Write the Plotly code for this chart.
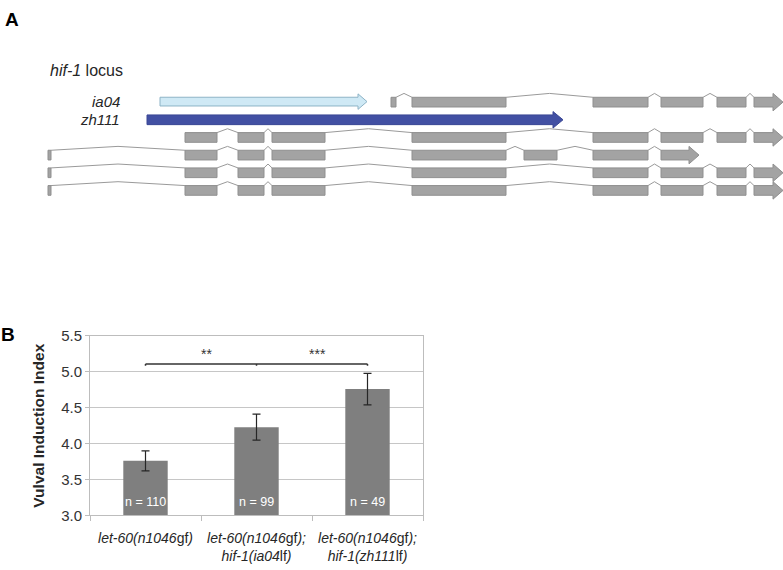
import plotly.graph_objects as go

W, H = 783, 570

# ---------------- Panel B data ----------------
genotypes = ["let-60(n1046gf)", "let-60(n1046gf); hif-1(ia04lf)", "let-60(n1046gf); hif-1(zh111lf)"]
tick_labels = [
    "<i>let-60(n1046</i>gf<i>)</i>",
    "<i>let-60(n1046</i>gf<i>);</i><br><i>hif-1(ia04</i>lf<i>)</i>",
    "<i>let-60(n1046</i>gf<i>);</i><br><i>hif-1(zh111</i>lf<i>)</i>",
]
vii = [3.76, 4.23, 4.76]
vii_err = [0.14, 0.18, 0.22]
n_worms = [110, 99, 49]
bracket_level = 5.11
star_level = 5.25
stars = ["**", "***"]

# ---------------- Panel A data (schematic locus coordinates) ----------------
transcript_lanes = [0, 2, 3, 4, 5]
transcript_starts = [
    [391, 412, 593, 661, 717, 754],
    [185, 238, 272, 412, 593, 661, 717, 754],
    [48, 185, 238, 272, 412, 524, 593, 661],
    [48, 185, 238, 272, 412, 593, 661, 717, 754],
    [48, 185, 238, 272, 412, 593, 661, 717, 754],
]
transcript_ends = [
    [396, 506, 648, 703, 746, 783],
    [217, 264, 325, 506, 648, 703, 746, 783],
    [51, 217, 264, 325, 506, 557, 648, 699],
    [51, 217, 264, 325, 506, 648, 703, 746, 783],
    [51, 217, 264, 325, 506, 648, 703, 746, 783],
]
deletion_names = ["ia04", "zh111"]
deletion_starts = [160, 147]
deletion_ends = [367, 563]
deletion_lanes = [-0.03, 1.0]

# ---------------- styling ----------------
PX_PER_LANE = 18.2
LANE0_PX = 96.0
EXON_HALF = 5 / PX_PER_LANE
HEAD_HALF = 9 / PX_PER_LANE
PEAK = 4 / PX_PER_LANE
EXON_FILL = "#a3a3a3"
EXON_LINE = "#8f8f8f"
TEXT = "#262626"
FONT = "Liberation Sans, Arial"


def arrow_poly(x0, x1, y, h, hh, L):
    xs = [x0, x1 - L, x1 - L, x1, x1 - L, x1 - L, x0, x0]
    ys = [y - h, y - h, y - hh, y, y + hh, y + h, y + h, y - h]
    return xs, ys


def lane_of(px):
    return (px - LANE0_PX) / PX_PER_LANE


fig = go.Figure()

# ---- gene models ----
ex_x, ex_y, in_x, in_y = [], [], [], []
for lane, starts, ends in zip(transcript_lanes, transcript_starts, transcript_ends):
    n = len(starts)
    for i, (s, e) in enumerate(zip(starts, ends)):
        if i == n - 1:
            xs, ys = arrow_poly(s, e, lane, EXON_HALF, HEAD_HALF, 10)
        else:
            xs = [s, e, e, s, s]
            ys = [lane - EXON_HALF, lane - EXON_HALF, lane + EXON_HALF, lane + EXON_HALF, lane - EXON_HALF]
        ex_x += xs + [None]
        ex_y += ys + [None]
        if i < n - 1:
            a, b = e, starts[i + 1]
            top = lane - EXON_HALF
            in_x += [a, (a + b) / 2, b, None]
            in_y += [top, top - PEAK, top, None]

fig.add_trace(go.Scatter(x=in_x, y=in_y, mode="lines", line=dict(color="#9a9a9a", width=1),
                         xaxis="x2", yaxis="y2", hoverinfo="skip", showlegend=False))
fig.add_trace(go.Scatter(x=ex_x, y=ex_y, mode="lines", fill="toself", fillcolor=EXON_FILL,
                         line=dict(color=EXON_LINE, width=1), xaxis="x2", yaxis="y2",
                         hoverinfo="skip", showlegend=False))

# ---- deletions ----
del_styles = [
    dict(fill="#cfe9f5", line="#8db3c6", h=4.5, hh=8.0, L=9),
    dict(fill="#4250a3", line="#3a4795", h=5.0, hh=8.5, L=10),
]
for name, s, e, lane, st in zip(deletion_names, deletion_starts, deletion_ends, deletion_lanes, del_styles):
    xs, ys = arrow_poly(s, e, lane, st["h"] / PX_PER_LANE, st["hh"] / PX_PER_LANE, st["L"])
    fig.add_trace(go.Scatter(x=xs, y=ys, mode="lines", fill="toself", fillcolor=st["fill"],
                             line=dict(color=st["line"], width=1), xaxis="x2", yaxis="y2",
                             hoverinfo="skip", showlegend=False))
    fig.add_annotation(x=122, y=lane, xref="x2", yref="y2", text="<i>%s</i>" % name,
                       showarrow=False, xanchor="right", yanchor="middle",
                       font=dict(family=FONT, size=15, color=TEXT))

# ---- bar chart ----
fig.add_trace(go.Bar(
    x=genotypes, y=vii, width=0.4, marker=dict(color="#7f7f7f", line=dict(width=0)),
    error_y=dict(type="data", array=vii_err, color="#262626", thickness=1.2, width=4),
    showlegend=False, hoverinfo="skip",
))
for g, n in zip(genotypes, n_worms):
    fig.add_annotation(x=g, y=3.0, xref="x", yref="y", yanchor="bottom", yshift=4,
                       text="n = %d" % n, showarrow=False,
                       font=dict(family=FONT, size=12.5, color="white"))

# significance bracket
fig.add_shape(type="line", xref="x", yref="y", x0=0, x1=2, y0=bracket_level, y1=bracket_level,
              line=dict(color="#333333", width=1.5))
for xc in [0, 1, 2]:
    fig.add_shape(type="line", xref="x", yref="y", x0=xc, x1=xc, y0=bracket_level,
                  y1=bracket_level - 0.025, line=dict(color="#333333", width=1.5))
for xc, s in zip([0.55, 1.55], stars):
    fig.add_annotation(x=xc, y=star_level, xref="x", yref="y", text=s, showarrow=False,
                       font=dict(family=FONT, size=14, color="#333333"))

px0, px1, py_top, py_bot = 90, 423, 337, 522
fig.update_layout(
    width=W, height=H, margin=dict(l=0, r=0, t=0, b=0),
    paper_bgcolor="white", plot_bgcolor="rgba(0,0,0,0)",
    xaxis=dict(domain=[px0 / W, px1 / W], tickvals=genotypes, ticktext=tick_labels,
               showline=True, linecolor="#bdbdbd", linewidth=1, mirror=True,
               ticks="outside", tickson="boundaries", ticklen=5, tickcolor="#bdbdbd",
               ticklabelstandoff=10,
               tickfont=dict(family=FONT, size=14, color=TEXT),
               anchor="y", fixedrange=True),
    yaxis=dict(domain=[(H - py_bot) / H, (H - py_top) / H], range=[3.0, 5.5], dtick=0.5,
               tickformat=".1f", showline=True, linecolor="#bdbdbd", linewidth=1, mirror=True,
               showgrid=True, gridcolor="#c6c6c6", gridwidth=1.3,
               ticks="outside", ticklen=4, tickcolor="#bdbdbd",
               tickfont=dict(family=FONT, size=15, color="#333333"),
               title=dict(text="<b>Vulval Induction Index</b>", standoff=12,
                          font=dict(family=FONT, size=15.5, color=TEXT)),
               anchor="x", fixedrange=True, zeroline=False),
    xaxis2=dict(domain=[0, 1], range=[0, W], visible=False, anchor="y2", fixedrange=True),
    yaxis2=dict(domain=[0, 1], range=[lane_of(H), lane_of(0)],
                visible=False, anchor="x2", fixedrange=True),
)

fig.add_annotation(x=12, y=lane_of(11), xref="x2", yref="y2", text="<b>A</b>", showarrow=False,
                   font=dict(family=FONT, size=19, color="black"))
fig.add_annotation(x=8, y=lane_of(336), xref="x2", yref="y2", text="<b>B</b>",
                   showarrow=False, font=dict(family=FONT, size=19, color="black"))
fig.add_annotation(x=48, y=lane_of(63), xref="x2", yref="y2",
                   text="<i>hif-1</i> locus", showarrow=False, xanchor="left",
                   font=dict(family=FONT, size=16, color=TEXT))

fig.write_html("out.html", config={"displayModeBar": False},
               post_script="document.body.style.margin='0';")
